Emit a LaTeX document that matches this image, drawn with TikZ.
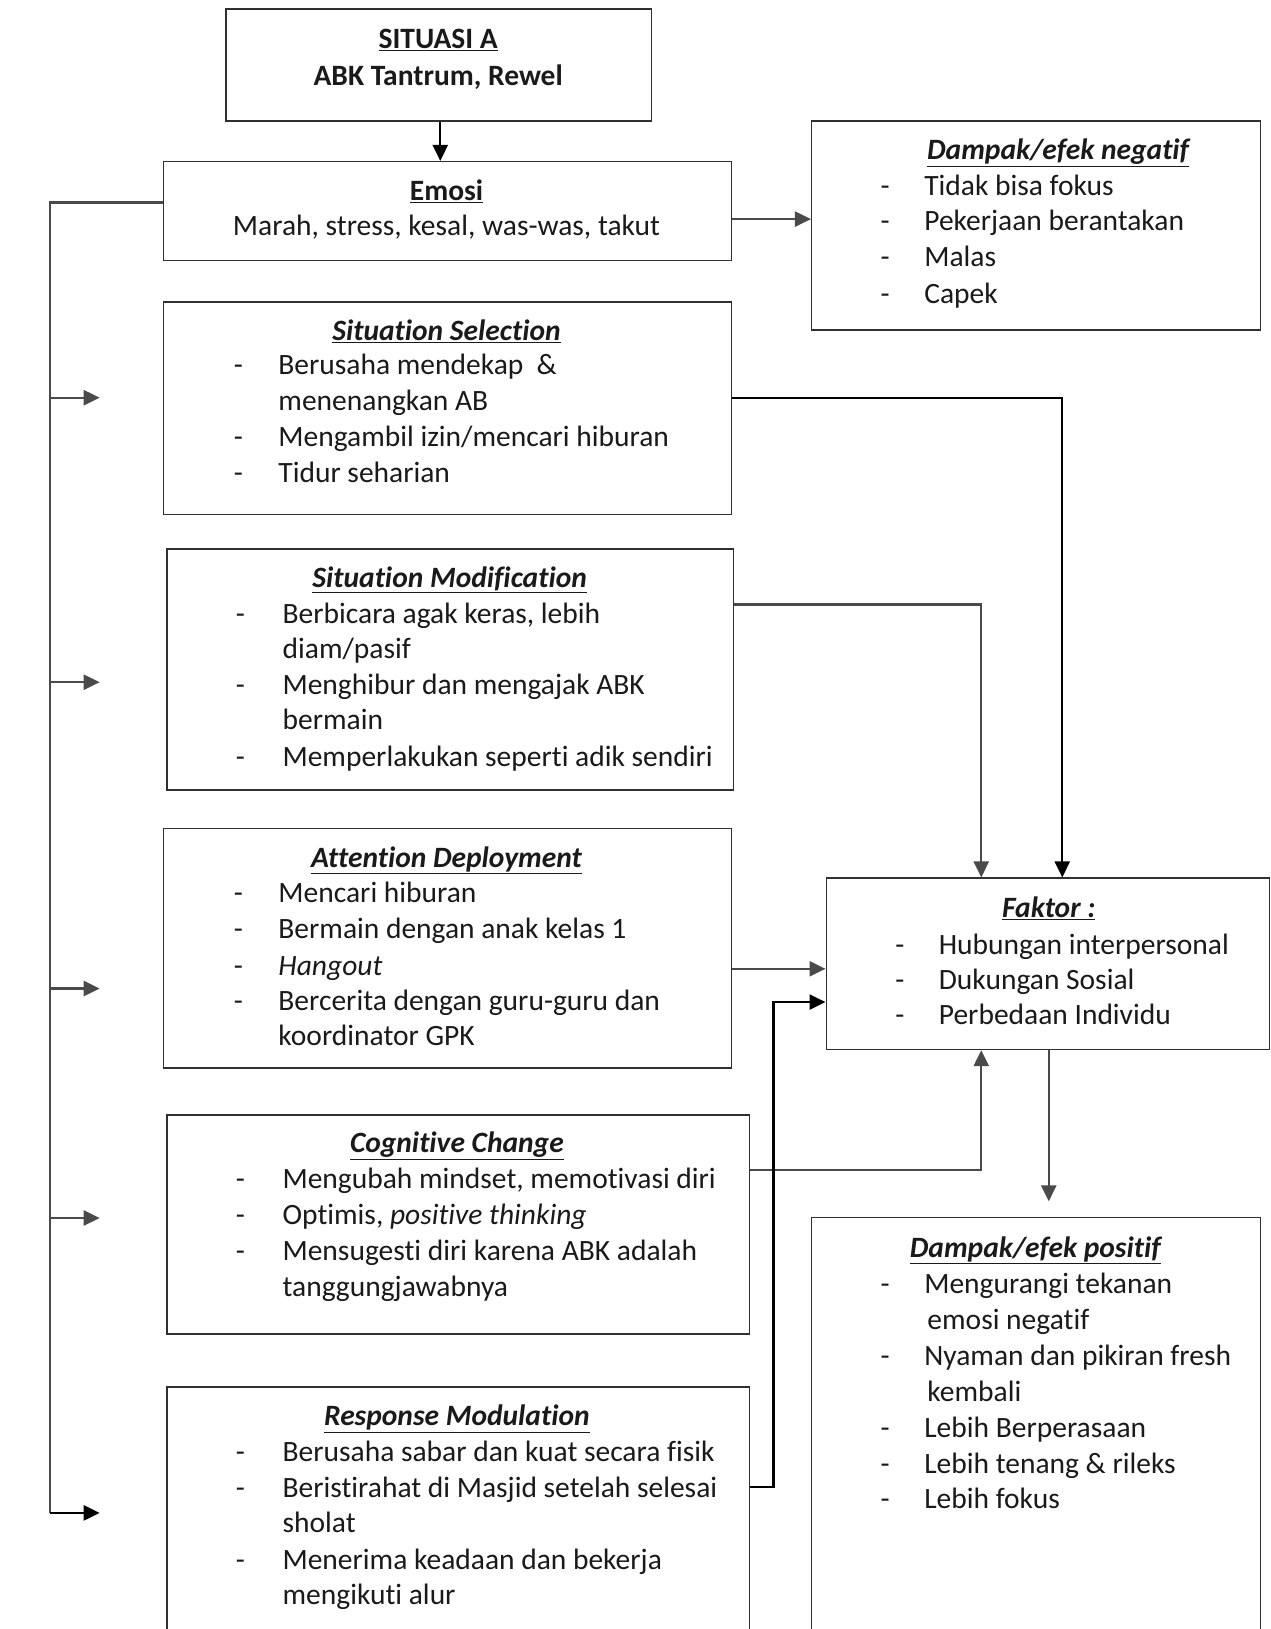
\documentclass[tikz,border=0pt]{standalone}
\usepackage{fontspec}
\setmainfont{Carlito}[Ligatures={NoCommon}]
\usetikzlibrary{arrows.meta}
\definecolor{conn}{HTML}{4A4A4A}
\definecolor{bord}{HTML}{303030}
\definecolor{ink}{HTML}{1A1A1A}
\def\S{1.0384}
\newcommand\bodyf{\fontsize{29.5}{35.8}\selectfont}
\newcommand\dl[1]{\makebox[43.6pt][l]{-}#1}
\newcommand\da[1]{\makebox[44.6pt][l]{-}#1}
\newcommand\db[1]{\makebox[46.7pt][l]{-}#1}
\tikzset{
  box/.style={draw=bord, line width=1.4pt, inner sep=0pt, anchor=north west},
  txt/.style={anchor=base west, inner sep=0pt, font=\bodyf, text=ink},
  ttl/.style={anchor=base, inner sep=0pt, font=\bodyf\bfseries\itshape, text=ink},
  ttlb/.style={anchor=base, inner sep=0pt, font=\bodyf\bfseries, text=ink},
  conline/.style={draw=conn, line width=2.4pt, -{Triangle[length=16pt,width=15pt]}},
  conblack/.style={draw=black, line width=2.4pt, -{Triangle[length=16pt,width=15pt]}},
}
\begin{document}
\begin{tikzpicture}[x=1.0384pt,y=-1.0384pt]
\useasboundingbox (0,0) rectangle (1224,1568.8);
\clip (0,0) rectangle (1224,1568.8);
\fill[white] (0,0) rectangle (1224,1568.8);

% ---------------- boxes ----------------
\node[box, minimum width={410*\S}, minimum height={108*\S}] (sit) at (217,8) {};
\node[box, minimum width={547*\S}, minimum height={95*\S}]  (emo) at (157,155) {};
\node[box, minimum width={432*\S}, minimum height={201*\S}] (neg) at (781,116) {};
\node[box, minimum width={547*\S}, minimum height={205*\S}] (ss)  at (157,290) {};
\node[box, minimum width={546*\S}, minimum height={232*\S}] (sm)  at (160,528) {};
\node[box, minimum width={547*\S}, minimum height={231*\S}] (ad)  at (157,797) {};
\node[box, minimum width={427*\S}, minimum height={165*\S}] (fak) at (795,845) {};
\node[box, minimum width={561*\S}, minimum height={211*\S}] (cc)  at (160,1073) {};
\node[box, minimum width={561*\S}, minimum height={250*\S}] (rm)  at (160,1335) {};
\node[box, minimum width={432*\S}, minimum height={410*\S}] (pos) at (781,1172) {};

% ---------------- texts ----------------
\node[ttlb] (sit1) at (422,47) {\underline{SITUASI A}};
\node[ttlb] (sit2) at (422,82) {ABK Tantrum, Rewel};

\node[ttlb] (emo1) at (430,193) {\underline{Emosi}};
\node[anchor=base, inner sep=0pt, font=\bodyf, text=ink] (emo2) at (430,227) {Marah, stress, kesal, was-was, takut};

\node[ttl] (neg0) at (1019,154) {\underline{Dampak/efek negatif}};
\node[txt] (neg1) at (848,188) {\dl{Tidak bisa fokus}};
\node[txt] (neg2) at (848,222) {\dl{Pekerjaan berantakan}};
\node[txt] (neg3) at (848,257) {\dl{Malas}};
\node[txt] (neg4) at (848,292) {\dl{Capek}};

\node[ttl] (ss0) at (430,328) {\underline{Situation Selection}};
\node[txt] (ss1) at (225,361) {\da{Berusaha mendekap \ \&}};
\node[txt] (ss2) at (268,395) {menenangkan AB};
\node[txt] (ss3) at (225,430) {\da{Mengambil izin/mencari hiburan}};
\node[txt] (ss4) at (225,465) {\da{Tidur seharian}};

\node[ttl] (sm0) at (433,566) {\underline{Situation Modification}};
\node[txt] (sm1) at (227,600) {\db{Berbicara agak keras, lebih}};
\node[txt] (sm2) at (272,634) {diam/pasif};
\node[txt] (sm3) at (227,669) {\db{Menghibur dan mengajak ABK}};
\node[txt] (sm4) at (272,703) {bermain};
\node[txt] (sm5) at (227,738) {\db{Memperlakukan seperti adik sendiri}};

\node[ttl] (ad0) at (430,835) {\underline{Attention Deployment}};
\node[txt] (ad1) at (225,869) {\da{Mencari hiburan}};
\node[txt] (ad2) at (225,904) {\da{Bermain dengan anak kelas 1}};
\node[txt] (ad3) at (225,939) {\da{\textit{Hangout}}};
\node[txt] (ad4) at (225,973) {\da{Bercerita dengan guru-guru dan}};
\node[txt] (ad5) at (268,1007) {koordinator GPK};

\node[ttl] (fak0) at (1010,884) {\underline{Faktor :}};
\node[txt] (fak1) at (862,919) {\dl{Hubungan interpersonal}};
\node[txt] (fak2) at (862,953) {\dl{Dukungan Sosial}};
\node[txt] (fak3) at (862,987) {\dl{Perbedaan Individu}};

\node[ttl] (cc0) at (440,1110) {\underline{Cognitive Change}};
\node[txt] (cc1) at (227,1145) {\db{Mengubah mindset, memotivasi diri}};
\node[txt] (cc2) at (227,1179) {\db{Optimis, \textit{positive thinking}}};
\node[txt] (cc3) at (227,1214) {\db{Mensugesti diri karena ABK adalah}};
\node[txt] (cc4) at (272,1249) {tanggungjawabnya};

\node[ttl] (rm0) at (440,1373) {\underline{Response Modulation}};
\node[txt] (rm1) at (227,1407) {\db{Berusaha sabar dan kuat secara fisik}};
\node[txt] (rm2) at (227,1442) {\db{Beristirahat di Masjid setelah selesai}};
\node[txt] (rm3) at (272,1476) {sholat};
\node[txt] (rm4) at (227,1511) {\db{Menerima keadaan dan bekerja}};
\node[txt] (rm5) at (272,1545) {mengikuti alur};

\node[ttl] (pos0) at (997,1211) {\underline{Dampak/efek positif}};
\node[txt] (pos1) at (848,1246) {\dl{Mengurangi tekanan}};
\node[txt] (pos2) at (893,1280) {emosi negatif};
\node[txt] (pos3) at (848,1315) {\dl{Nyaman dan pikiran fresh}};
\node[txt] (pos4) at (893,1350) {kembali};
\node[txt] (pos5) at (848,1384) {\dl{Lebih Berperasaan}};
\node[txt] (pos6) at (848,1419) {\dl{Lebih tenang \& rileks}};
\node[txt] (pos7) at (848,1453) {\dl{Lebih fokus}};

% ---------------- connectors ----------------
\draw[conblack] (sit.south -| 424,0) -- (emo.north -| 424,0);
\draw[conline] (emo.east |- 0,211) -- (neg.west |- 0,211);

% left bracket
\coordinate (lt) at (48,195);
\coordinate (lb) at (48,1457);
\coordinate (a1) at (96,383);
\coordinate (a2) at (96,657);
\coordinate (a3) at (96,952);
\coordinate (a4) at (96,1173);
\coordinate (a5) at (96,1457);
\draw[draw=conn, line width=2.4pt] (emo.west |- lt) -- (lt) -- (lb);
\draw[conline] (lt |- a1) -- (a1);
\draw[conline] (lt |- a2) -- (a2);
\draw[conline] (lt |- a3) -- (a3);
\draw[conline] (lt |- a4) -- (a4);
\draw[conblack] (lb) -- (a5);

% to Faktor
\coordinate (rmj) at (745,1432);
\draw[conblack] (ss.east |- 0,383) -| (fak.north -| 1023,0);
\draw[conline] (sm.east |- 0,582) -| (fak.north -| 945,0);
\draw[conline] (ad.east |- 0,933) -- (fak.west |- 0,933);
\draw[conline] (cc.east |- 0,1127) -| (fak.south -| 945,0);
\draw[conblack] (rm.east |- rmj) -- (rmj) |- (fak.west |- 0,965);
\draw[conline, shorten >=15.6pt] (fak.south -| 1010,0) -- (pos.north -| 1010,0);
\end{tikzpicture}
\end{document}
